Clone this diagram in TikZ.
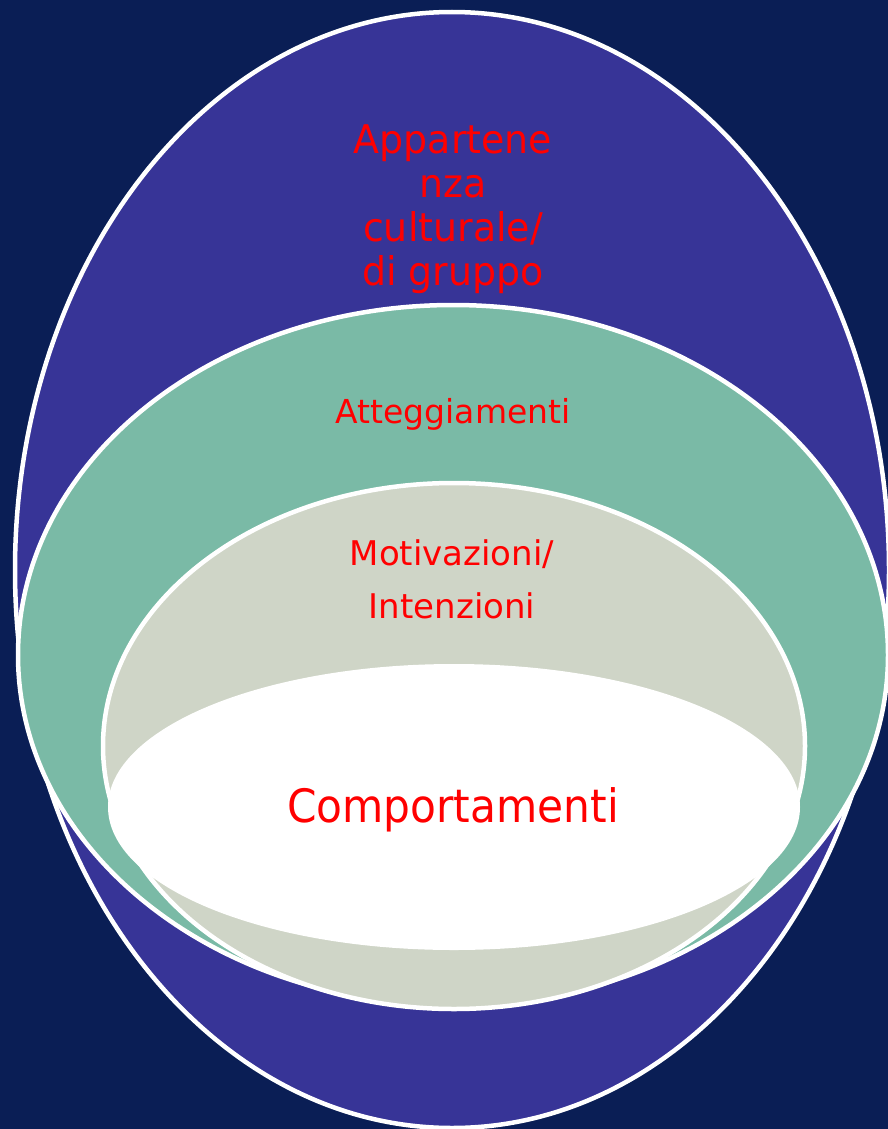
\documentclass[tikz,border=0pt]{standalone}
\usepackage{fontspec}
\setmainfont{DejaVu Sans}
\newfontfamily\appfont{DejaVu Sans}[FakeStretch=0.96]
\newfontfamily\compfont{DejaVu Sans}[FakeStretch=0.92]
\usepackage{tikz}
\usepackage{color}
\definecolor{navy}{RGB}{10,30,85}
\definecolor{culturepurple}{RGB}{55,52,151}
\definecolor{attteal}{RGB}{122,186,166}
\definecolor{motgray}{RGB}{207,213,199}

\begin{document}
\begin{tikzpicture}[x=1pt,y=-1pt,
        ring/.style={draw=white,line width=4.5pt},
        lbl/.style={text=red,inner sep=0pt,align=center}]
                \useasboundingbox (0,0) rectangle (888,1129);
                \fill[navy] (0,0) rectangle (888,1129);
                \begin{scope}
                \clip (0,0) rectangle (888,1129);
                % nested layers, outside to inside
                \draw[ring,fill=culturepurple] (452,570) ellipse [x radius=437, y radius=558];
                \draw[ring,fill=attteal] (453,655) ellipse [x radius=435, y radius=350];
                \draw[ring,fill=motgray] (454,746) ellipse [x radius=351, y radius=263];
                \fill[white] (454,807) ellipse [x radius=346, y radius=143];
                \end{scope}
                \node[lbl,font=\appfont\fontsize{39.5}{44}\selectfont] (App) at (453,209)
                    {Appartene\\nza\\culturale/\\di gruppo};
                \node[lbl,font=\fontsize{33}{40}\selectfont,anchor=base] (Att) at (453,423) {Atteggiamenti};
                \node[lbl,font=\fontsize{34}{53}\selectfont] (Mot) at (452,579) {Motivazioni/\\Intenzioni};
                \node[lbl,font=\compfont\fontsize{46}{50}\selectfont,anchor=base] (Comp) at (453,822) {Comportamenti};
            \end{tikzpicture}
\end{document}
